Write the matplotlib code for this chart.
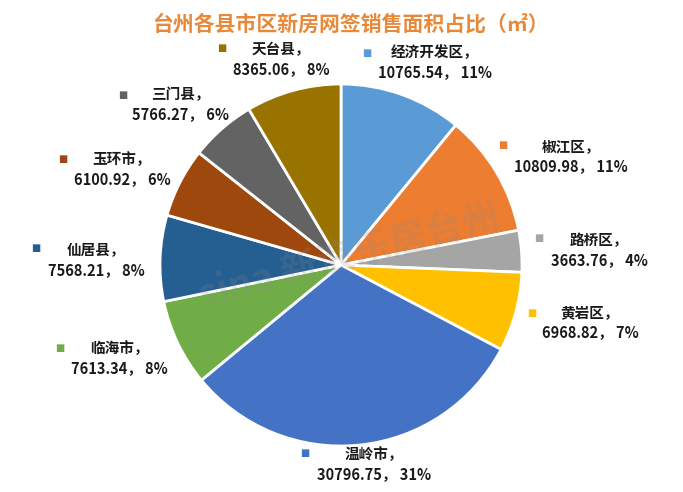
import matplotlib
matplotlib.use('Agg')
import matplotlib.pyplot as plt

plt.rcParams['font.family'] = ['Noto Sans CJK SC', 'DejaVu Sans']

# 数据：按饼图顺时针顺序（从12点方向开始）
areas = ['经济开发区', '椒江区', '路桥区', '黄岩区', '温岭市',
         '临海市', '仙居县', '玉环市', '三门县', '天台县']
values = [10765.54, 10809.98, 3663.76, 6968.82, 30796.75,
          7613.34, 7568.21, 6100.92, 5766.27, 8365.06]
colors = ['#5B9BD5', '#ED7D31', '#A5A5A5', '#FFC000', '#4472C4',
          '#70AD47', '#255E91', '#9E480E', '#636363', '#997300']

# 标签位置（像素，文字中心 / 小方块）
label_pos = [(435, 62), (571, 156), (599, 250), (590, 322), (374, 464),
             (119, 358), (96, 260), (122, 169), (180, 104), (281, 59)]
marker_pos = [(367, 53), (503, 145), (539, 238), (532, 313), (305, 453),
              (60, 348), (36, 248), (63, 159), (123, 95), (222, 48)]

W, H = 683, 492


def px(x, y):
    return x / W, 1 - y / H


fig = plt.figure(figsize=(W / 100, H / 100), dpi=100)
fig.patch.set_facecolor('white')

# 饼图区域：中心 (341, 265)，半径 181 px
cx, cy, r = 341, 265, 181
ax = fig.add_axes([(cx - r) / W, 1 - (cy + r) / H, 2 * r / W, 2 * r / H])
ax.pie(values, colors=colors, startangle=90, counterclock=False,
       wedgeprops=dict(edgecolor='white', linewidth=2))
ax.set_xlim(-1.0, 1.0)
ax.set_ylim(-1.0, 1.0)
ax.set_aspect('equal')
ax.axis('off')

total = sum(values)
for name, v, c, lp, mp in zip(areas, values, colors, label_pos, marker_pos):
    pct = round(v / total * 100)
    fig.text(*px(*lp), f'{name}，\n{v:.2f}， {pct}%', ha='center', va='center',
             fontsize=10.5, fontweight='bold', color='#1a1a1a', linespacing=1.25)
    fig.text(*px(*mp), '■', ha='center', va='center', fontsize=7, color=c,
             family='DejaVu Sans')

# 水印
fig.text(*px(350, 256), 'sina 新浪乐居台州', ha='center', va='center',
         fontsize=27, fontweight='bold', color='#8a8a8a', alpha=0.2,
         rotation=15)

fig.text(*px(350, 24), '台州各县市区新房网签销售面积占比（㎡）', ha='center',
         va='center', fontsize=15, fontweight='bold', color='#E8893A')

fig.savefig('out.png', dpi=100)
